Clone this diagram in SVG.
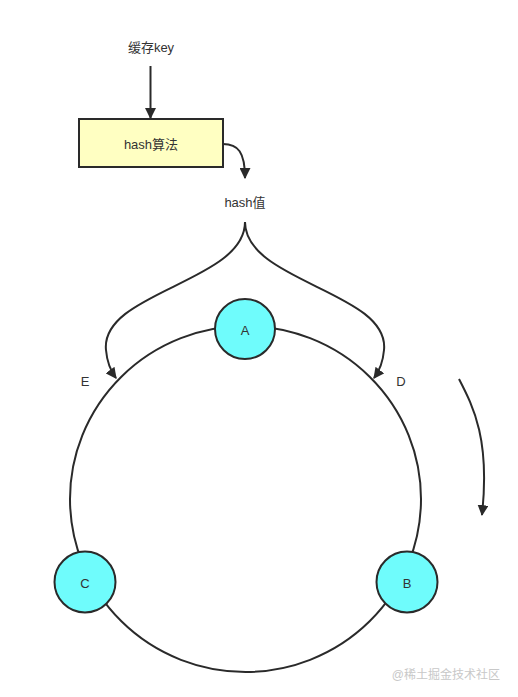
<svg xmlns="http://www.w3.org/2000/svg" width="518" height="697" viewBox="0 0 518 697">
<style>
.t{font-family:"Helvetica Neue","Liberation Sans","Noto Sans CJK SC",sans-serif;font-size:13px;fill:#333;text-anchor:middle;dominant-baseline:central}
.ln{fill:none;stroke:#2a2a2a;stroke-width:2}
.nd{fill:#6ffcfc;stroke:#2a2a2a;stroke-width:2}
</style>
<defs>
<marker id="ah" viewBox="0 0 10 10" refX="9" refY="5" markerWidth="5.5" markerHeight="5.5" orient="auto" markerUnits="strokeWidth">
<path d="M0,0 L10,5 L0,10 z" fill="#2a2a2a"/>
</marker>
</defs>
<rect width="518" height="697" fill="#fff"/>
<g id="ring"><ellipse cx="245.5" cy="499" rx="175.5" ry="173" class="ln"/></g>
<g id="connectors">
<path class="ln" d="M150.5,66 L150.5,118" marker-end="url(#ah)"/>
<path class="ln" d="M223,144 C238,144 245,152 245,178" marker-end="url(#ah)"/>
<path class="ln" d="M245,222 C245,282 100,292 106,350 C107,362 110,370 116,378" marker-end="url(#ah)"/>
<path class="ln" d="M245,222 C245,282 390,292 384,350 C383,362 380,370 374,378" marker-end="url(#ah)"/>
<path class="ln" d="M459,379 C474,408 490,440 482,515" marker-end="url(#ah)"/>
</g>
<g id="key"><text class="t" x="151" y="47">缓存key</text></g>
<g id="hashalg"><rect x="79" y="119" width="144" height="48" fill="#ffffc2" stroke="#2a2a2a" stroke-width="2"/><text class="t" x="151" y="144">hash算法</text></g>
<g id="hashval"><text class="t" x="245" y="202">hash值</text></g>
<g id="A"><circle class="nd" cx="245" cy="329" r="30"/><text class="t" x="245" y="330">A</text></g>
<g id="B"><circle class="nd" cx="407" cy="582" r="30.5"/><text class="t" x="407" y="583">B</text></g>
<g id="C"><circle class="nd" cx="85" cy="582" r="30.5"/><text class="t" x="85" y="583">C</text></g>
<g id="E"><text class="t" x="85" y="381">E</text></g>
<g id="D"><text class="t" x="401" y="381">D</text></g>
<text x="500" y="675" font-family="'Liberation Sans','Noto Sans CJK SC',sans-serif" font-size="12" fill="#c8c8c8" text-anchor="end" dominant-baseline="central">@稀土掘金技术社区</text>
</svg>
